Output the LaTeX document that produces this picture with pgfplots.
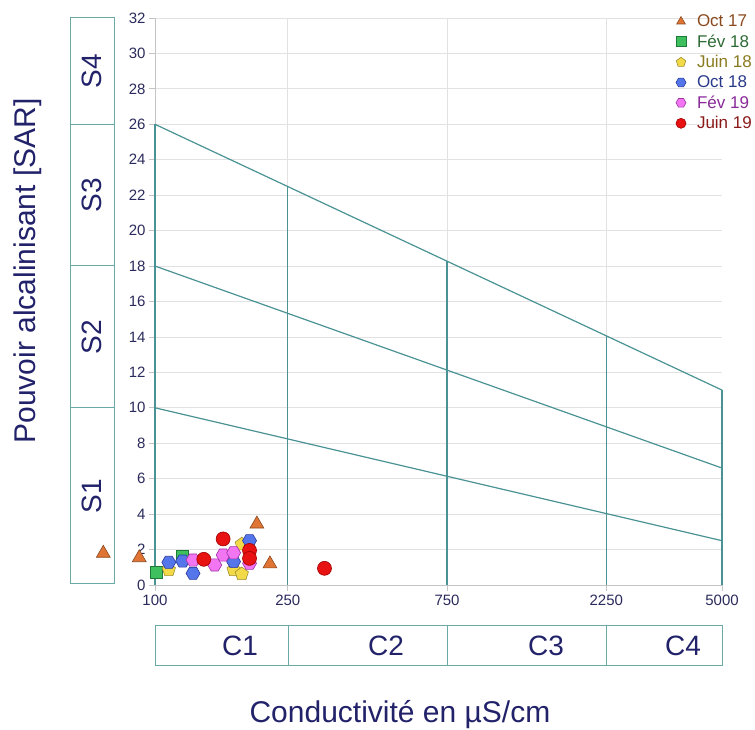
\documentclass[border=0pt]{standalone}
\usepackage{pgfplots}
\pgfplotsset{compat=1.18}
\usetikzlibrary{plotmarks}
\usepackage{fontspec}
\setmainfont{Liberation Sans}
\definecolor{navy}{HTML}{22226A}
\definecolor{ticklab}{HTML}{2A2A5C}
\definecolor{gridc}{HTML}{E2E2E2}
\definecolor{axisc}{HTML}{C4C4C4}
\definecolor{boxc}{HTML}{6AAAA6}
\definecolor{linec}{HTML}{4A9294}
% markers
\definecolor{oF}{HTML}{E07434}\definecolor{oD}{HTML}{8A4A22}\definecolor{oT}{HTML}{8B4A1E}
\definecolor{gF}{HTML}{3FC05E}\definecolor{gD}{HTML}{1F7A3A}\definecolor{gT}{HTML}{2E6B34}
\definecolor{yF}{HTML}{F2DA48}\definecolor{yD}{HTML}{A08E2E}\definecolor{yT}{HTML}{8A7A20}
\definecolor{bF}{HTML}{5575EA}\definecolor{bD}{HTML}{2A3A9A}\definecolor{bT}{HTML}{2A3A8A}
\definecolor{vF}{HTML}{F276F2}\definecolor{vD}{HTML}{A032A8}\definecolor{vT}{HTML}{8A2A9A}
\definecolor{rF}{HTML}{E81212}\definecolor{rD}{HTML}{A00000}\definecolor{rT}{HTML}{8A1A1A}
\pgfdeclareplotmark{hexagon*}{%
  \pgfpathmoveto{\pgfpointpolar{0}{\pgfplotmarksize}}%
  \pgfpathlineto{\pgfpointpolar{60}{\pgfplotmarksize}}%
  \pgfpathlineto{\pgfpointpolar{120}{\pgfplotmarksize}}%
  \pgfpathlineto{\pgfpointpolar{180}{\pgfplotmarksize}}%
  \pgfpathlineto{\pgfpointpolar{240}{\pgfplotmarksize}}%
  \pgfpathlineto{\pgfpointpolar{300}{\pgfplotmarksize}}%
  \pgfpathclose
  \pgfusepathqfillstroke
}
\begin{document}
\begin{tikzpicture}[x=1pt,y=1pt]
\useasboundingbox (0,0) rectangle (755,730);
\begin{axis}[
  at={(155pt,145pt)}, anchor=south west,
  scale only axis, width=567pt, height=567pt,
  xmode=log, xmin=100, xmax=5000, ymin=0, ymax=32,
  xtick={100,250,750,2250}, xticklabels={100,250,750,2250},
  extra x ticks={5000}, extra x tick labels={5000}, extra x tick style={grid=none},
  xminorticks=false, yminorticks=false,
  ytick={0,2,...,32},
  grid=major, grid style={gridc, line width=0.8pt},
  axis x line*=bottom, axis y line*=left,
  axis line style={axisc, line width=0.8pt},
  tick align=outside, major tick length=6pt, tick style={axisc, line width=0.8pt},
  ticklabel style={font=\fontsize{15}{18}\selectfont, text=ticklab},
  /pgf/number format/assume math mode=true,
  clip=false,
  xlabel={Conductivité en µS/cm},
  ylabel={Pouvoir alcalinisant [SAR]},
  xlabel style={at={(axis description cs:0.432,-0.229)}, anchor=center, font=\fontsize{30}{36}\selectfont, text=navy},
  ylabel style={at={(axis description cs:-0.224,0.554)}, anchor=center, font=\fontsize{30}{36}\selectfont, text=navy},
  legend style={at={(axis description cs:0.915,1.0095)}, anchor=north west, draw=none, fill=none,
    font=\fontsize{17}{20}\selectfont, row sep=4.6pt, inner sep=1pt,
    nodes={inner sep=1pt}},
  legend cell align=left,
  legend image code/.code={%
    \path[draw=none, fill=none] (-6pt,-5pt) rectangle (15pt,5pt);
    \draw[#1, mark size=5pt, line width=0.6pt] plot coordinates {(0pt,0pt)};},
]
% diagram lines
\addplot[linec, line width=1.2pt, forget plot] coordinates {(100,26) (5000,11)};
\addplot[linec, line width=1.2pt, forget plot] coordinates {(100,18) (5000,6.6)};
\addplot[linec, line width=1.2pt, forget plot] coordinates {(100,10) (5000,2.5)};
\addplot[linec, line width=1.2pt, forget plot] coordinates {(100,26) (100,0)};
\addplot[linec, line width=1.2pt, forget plot] coordinates {(250,22.49) (250,0)};
\addplot[linec, line width=1.2pt, forget plot] coordinates {(750,18.27) (750,0)};
\addplot[linec, line width=1.2pt, forget plot] coordinates {(2250,14.06) (2250,0)};
\addplot[linec, line width=1.2pt, forget plot] coordinates {(5000,11) (5000,0)};
% data
\addplot[only marks, mark=triangle*, mark size=8pt, mark options={fill=oF, draw=oD, line width=0.6pt}]
  coordinates {(70,1.79) (89.7,1.54) (202,3.44) (221,1.19)};
\addlegendentry{\textcolor{oT}{Oct 17}}
\addplot[only marks, mark=square*, mark size=6pt, mark options={fill=gF, draw=gD, line width=0.6pt}]
  coordinates {(101,0.7) (121,1.64)};
\addlegendentry{\textcolor{gT}{Fév 18}}
\addplot[only marks, mark=pentagon*, mark size=7pt, mark options={fill=yF, draw=yD, line width=0.6pt}]
  coordinates {(110,0.85) (172,0.85) (182,0.62) (182,2.3)};
\addlegendentry{\textcolor{yT}{Juin 18}}
\addplot[only marks, mark=hexagon*, mark size=7pt, mark options={fill=bF, draw=bD, line width=0.6pt}]
  coordinates {(110,1.28) (121,1.35) (130,0.66) (172,1.32) (192,2.5)};
\addlegendentry{\textcolor{bT}{Oct 18}}
\addplot[only marks, mark=hexagon*, mark size=7pt, mark options={fill=vF, draw=vD, line width=0.6pt}]
  coordinates {(130,1.41) (151,1.13) (160,1.69) (172,1.82) (192,1.22)};
\addlegendentry{\textcolor{vT}{Fév 19}}
\addplot[only marks, mark=*, mark size=7pt, mark options={fill=rF, draw=rD, line width=0.6pt}]
  coordinates {(140,1.45) (160,2.6) (192,1.95) (192,1.5) (322,0.94)};
\addlegendentry{\textcolor{rT}{Juin 19}}
\end{axis}
% S boxes
\draw[boxc, line width=1pt] (70,146) rectangle (114,712);
\draw[boxc, line width=1pt] (70,322.2) -- (114,322.2);
\draw[boxc, line width=1pt] (70,464) -- (114,464);
\draw[boxc, line width=1pt] (70,605.7) -- (114,605.7);
\begin{scope}[every node/.style={rotate=90, text=navy, font=\fontsize{28}{34}\selectfont, anchor=center}]
\node at (92,234) {S1};
\node at (92,393) {S2};
\node at (92,535) {S3};
\node at (92,659) {S4};
\end{scope}
% C boxes
\draw[boxc, line width=1pt] (155,64) rectangle (722,104);
\draw[boxc, line width=1pt] (288,64) -- (288,104);
\draw[boxc, line width=1pt] (447,64) -- (447,104);
\draw[boxc, line width=1pt] (606,64) -- (606,104);
\begin{scope}[every node/.style={text=navy, font=\fontsize{28}{34}\selectfont, anchor=center}]
\node at (240,84) {C1};
\node at (386,84) {C2};
\node at (546,84) {C3};
\node at (683,84) {C4};
\end{scope}
\end{tikzpicture}
\end{document}
